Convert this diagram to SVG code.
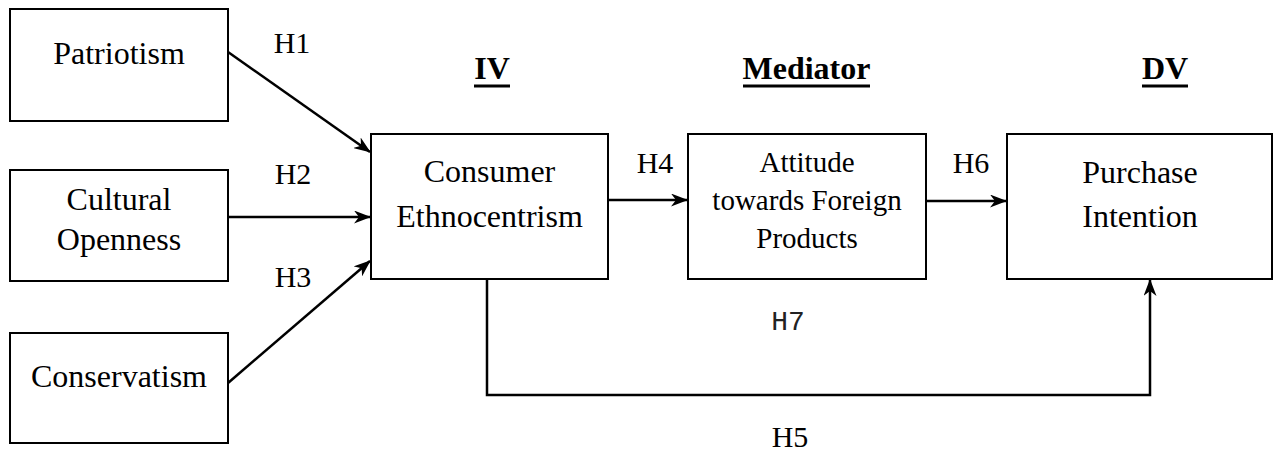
<svg xmlns="http://www.w3.org/2000/svg" width="1275" height="455" viewBox="0 0 1275 455">
  <style>
    .box { fill: #ffffff; stroke: #000000; stroke-width: 2; }
    .t { font-family: "Liberation Serif", serif; font-size: 32px; fill: #000000; text-anchor: middle; }
    .ts { font-family: "Liberation Serif", serif; font-size: 29px; fill: #000000; text-anchor: middle; }
    .lbl { font-family: "Liberation Serif", serif; font-size: 30px; fill: #000000; text-anchor: middle; }
    .mono { font-family: "Liberation Mono", monospace; font-size: 28px; fill: #222222; text-anchor: middle; }
    .hdr { font-family: "Liberation Serif", serif; font-size: 32px; font-weight: bold; fill: #000000; text-anchor: middle; }
    .ul { stroke: #000000; stroke-width: 3; }
    .conn { fill: none; stroke: #000000; stroke-width: 2.5; }
  </style>
  <defs>
    <marker id="arr" viewBox="0 0 17 13" refX="16" refY="6.5" markerWidth="17" markerHeight="13" markerUnits="userSpaceOnUse" orient="auto">
      <path d="M0,0 L17,6.5 L0,13 L5,6.5 Z" fill="#000000"/>
    </marker>
  </defs>
  <rect width="1275" height="455" fill="#ffffff"/>

  <g id="headers">
    <text class="hdr" x="492" y="79">IV</text>
    <line class="ul" x1="474" y1="86" x2="510" y2="86"/>
    <text class="hdr" x="806.5" y="79">Mediator</text>
    <line class="ul" x1="743" y1="86" x2="870" y2="86"/>
    <text class="hdr" x="1165" y="79">DV</text>
    <line class="ul" x1="1142" y1="86" x2="1188" y2="86"/>
  </g>

  <g id="patriotism">
    <rect class="box" x="10" y="9" width="218" height="112"/>
    <text class="t" x="119" y="64">Patriotism</text>
  </g>
  <g id="cultural-openness">
    <rect class="box" x="10" y="170" width="218" height="111"/>
    <text class="t" x="119" y="210">Cultural</text>
    <text class="t" x="119" y="250">Openness</text>
  </g>
  <g id="conservatism">
    <rect class="box" x="10" y="333" width="218" height="110"/>
    <text class="t" x="119" y="387">Conservatism</text>
  </g>
  <g id="consumer-ethnocentrism">
    <rect class="box" x="371" y="134" width="237" height="145"/>
    <text class="t" x="489.5" y="182">Consumer</text>
    <text class="t" x="489.5" y="227">Ethnocentrism</text>
  </g>
  <g id="attitude">
    <rect class="box" x="688" y="134" width="238" height="145"/>
    <text class="ts" x="807" y="172">Attitude</text>
    <text class="ts" x="807" y="210">towards Foreign</text>
    <text class="ts" x="807" y="248">Products</text>
  </g>
  <g id="purchase-intention">
    <rect class="box" x="1007" y="134" width="265" height="145"/>
    <text class="t" x="1140" y="183">Purchase</text>
    <text class="t" x="1140" y="227">Intention</text>
  </g>

  <g id="connectors">
    <line class="conn" x1="228" y1="52" x2="370" y2="152" marker-end="url(#arr)"/>
    <line class="conn" x1="228" y1="217" x2="370" y2="217" marker-end="url(#arr)"/>
    <line class="conn" x1="228" y1="383" x2="370" y2="261" marker-end="url(#arr)"/>
    <line class="conn" x1="608" y1="200" x2="687" y2="200" marker-end="url(#arr)"/>
    <line class="conn" x1="926" y1="201" x2="1006" y2="201" marker-end="url(#arr)"/>
    <path class="conn" d="M487,279 L487,395 L1150,395 L1150,280" marker-end="url(#arr)"/>
  </g>

  <g id="labels">
    <text class="lbl" x="292" y="53">H1</text>
    <text class="lbl" x="293" y="184">H2</text>
    <text class="lbl" x="293" y="287">H3</text>
    <text class="lbl" x="655" y="173">H4</text>
    <text class="lbl" x="971" y="173">H6</text>
    <text class="mono" x="788" y="330">H7</text>
    <text class="lbl" x="790" y="447">H5</text>
  </g>
</svg>
